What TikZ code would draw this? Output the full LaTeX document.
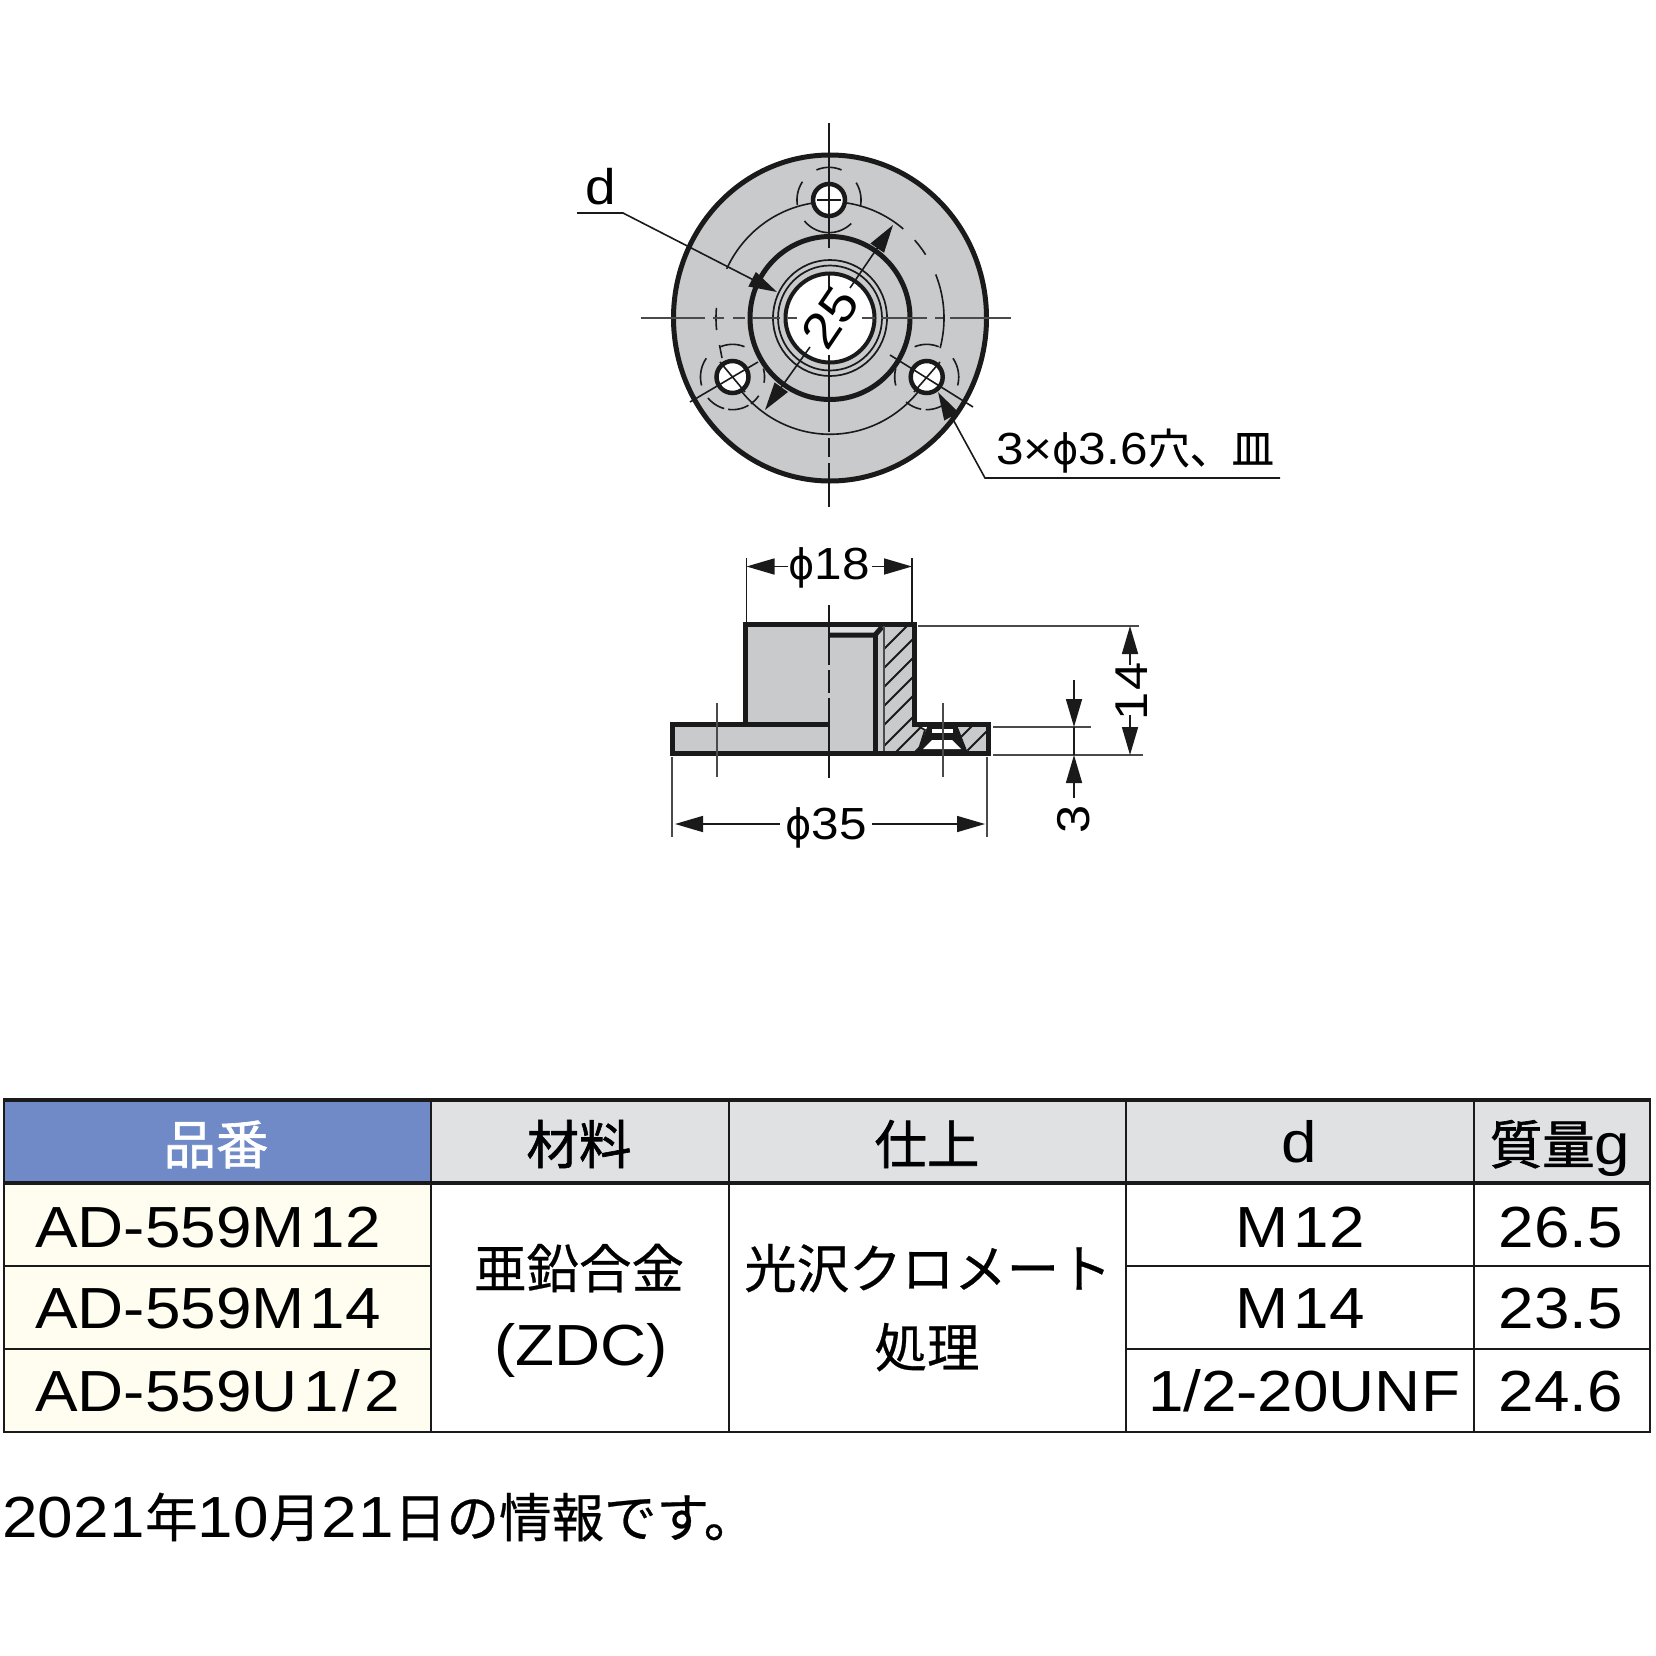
\documentclass[tikz,border=0pt]{standalone}
\usepackage{fontspec}
\setmainfont[FakeStretch=1.1]{Liberation Sans}
\newfontfamily\cjk[FakeBold=0.5]{Noto Sans CJK JP}
\newfontfamily\cjkb[FakeBold=1.2]{Noto Sans CJK JP}
\newfontfamily\phifont[FakeStretch=0.95]{DejaVu Sans}
\usetikzlibrary{arrows.meta}
\newcommand\fsz[1]{\fontsize{#1}{#1}\selectfont}
\newcommand\J[2][52.5]{{\cjk\fsz{#1}#2}}
\newcommand\JB[1]{{\cjkb\fsz{52.5}#1}}
\newcommand\parc[6]{\draw[#6] plot[domain=#4:#5,samples=40,smooth,variable=\t] ({#1+#3*cos(\t)},{#2-#3*1.02*sin(\t)});}
\definecolor{metal}{HTML}{C9CACB}
\definecolor{band}{HTML}{DEDFE0}
\definecolor{hblue}{HTML}{6F8AC6}
\definecolor{hgray}{HTML}{E0E1E3}
\definecolor{cream}{HTML}{FEFDF0}
\definecolor{ink}{HTML}{1A1A1A}
\definecolor{soft}{HTML}{4A4A4A}
\tikzset{
  thick line/.style={draw=ink,line width=5pt},
  mid line/.style={draw=ink,line width=1.7pt},
  thin line/.style={draw=ink,line width=1.6pt},
  ext line/.style={draw=soft,line width=1.7pt},
  center mark/.style={draw=soft,line width=2.2pt},
  dimarrow/.style={-{Triangle[length=28pt,width=16pt]},draw=ink,line width=1.6pt},
  rule/.style={draw=ink,line width=2.4pt},
  heavy rule/.style={draw=ink,line width=4pt},
  dimtext/.style={inner sep=0pt,font=\fsz{46}},
  cell/.style={inner sep=0pt,anchor=base,font=\fsz{58}},
  pn/.style={inner sep=0pt,anchor=base west,font=\fsz{58}}
}
\begin{document}
\begin{tikzpicture}[x=1pt,y=-1pt]
\useasboundingbox (0,0) rectangle (1656,1656);
\fill[white] (0,0) rectangle (1656,1656);

% ---------- top view
\coordinate (cc) at (830,318);
\path[fill=metal] (cc) ellipse [x radius=156.5,y radius=163];
\draw[thick line] (cc) ellipse [x radius=156.5,y radius=163];
\draw[thick line] (cc) ellipse [x radius=80,y radius=81.5];
\draw[mid line] (cc) ellipse [x radius=57,y radius=58];
\draw[mid line] (cc) ellipse [x radius=52,y radius=52.5];
\draw[line width=4pt,draw=ink,fill=white] (cc) ellipse [x radius=44.5,y radius=44.5];

% pitch circle
\parc{830}{318}{114}{98}{155}{thin line}
\parc{830}{318}{114}{175}{186}{thin line}
\parc{830}{318}{114}{82}{50}{thin line}
\parc{830}{318}{114}{42}{33}{thin line}
\parc{830}{318}{114}{22}{-15}{thin line}
\parc{830}{318}{114}{-143}{-37}{thin line}

% holes
\foreach \hx/\hy/\nm in {829/200/top,732.5/377/lft,926.7/377/rgt}{
  \draw[line width=4.5pt,draw=ink,fill=white] (\hx,\hy) coordinate (h\nm) circle [radius=16];
}
% countersink arcs
\parc{829}{200}{32}{67}{113}{thin line}
\parc{829}{200}{32}{146}{189}{thin line}
\parc{829}{200}{32}{32}{-12}{thin line}
\parc{829}{200}{32}{-140}{-46}{thin line}
\parc{732.5}{377}{32}{68}{112}{thin line}
\parc{732.5}{377}{32}{145}{195}{thin line}
\parc{732.5}{377}{32}{-140}{-105}{thin line}
\parc{732.5}{377}{32}{-98}{-60}{thin line}
\parc{732.5}{377}{32}{-55}{-35}{thin line}
\parc{732.5}{377}{32}{-10}{15}{thin line}
\parc{926.7}{377}{32}{68}{112}{thin line}
\parc{926.7}{377}{32}{-15}{35}{thin line}
\parc{926.7}{377}{32}{-130}{-100}{thin line}
\parc{926.7}{377}{32}{-92}{-55}{thin line}
\parc{926.7}{377}{32}{165}{195}{thin line}
\draw[thin line] (719.5,345) -- (722,358);
% hole centre marks
\draw[thin line] (817,200) -- (841,200);
\draw[thin line] (758,362) -- (690,402);
\draw[thin line] (720,362) -- (745,392);
\draw[thin line] (890,355) -- (973,407);
\draw[thin line] (940,362) -- (914,392);
% vertical centre line
\foreach \a/\b in {123/248,273/290,355/432,438/457,463/507}{
  \draw[thin line] (829,\a) -- (829,\b);
}
% horizontal centre line
\foreach \a/\b in {641/705,713/724,733/745,752/780,788/797,862/875,881/927,935/943,950/1011}{
  \draw[center mark] (\a,318) -- (\b,318);
}

% dimension 25 and leaders
\coordinate (a1) at (850,288);
\coordinate (a2) at (893,225);
\coordinate (b1) at (810,347);
\coordinate (b2) at (765,410);
\draw[dimarrow] (a1) -- (a2);
\draw[dimarrow] (b1) -- (b2);
\node[dimtext,rotate=56,font=\fsz{50}] (tw) at (830,318) {25};

\node[inner sep=0pt,font=\fsz{50}] (dl) at (601,187) {d};
\coordinate (d0) at (577,213);
\coordinate (d1) at (623,213);
\coordinate (d2) at (777,292);
\draw[dimarrow] (d0) -- (d1) -- (d2);

\node[inner sep=0pt,anchor=base west,font=\fsz{45}] (hl) at (996,464) {3×{\phifont\fsz{42}ϕ}3.6\J[42]{穴、皿}};
\coordinate (l0) at (1280,478);
\coordinate (l1) at (985,478);
\coordinate (l2) at (938,392);
\draw[dimarrow] (l0) -- (l1) -- (l2);

% ---------- side view
% gray bodies
\fill[metal] (745,624) rectangle (829,724);
\fill[metal] (672,725) rectangle (829,753);
\fill[metal] (829,637) rectangle (873,753);
\fill[band] (829,626) -- (880,626) -- (873,635) -- (829,635) -- cycle;
\fill[metal] (875,635) -- (884,626) -- (913,626) -- (913,723) -- (925,730) -- (918,752) -- (875,752) -- cycle;
\fill[metal] (957,727) -- (988,727) -- (988,752) -- (968,752) -- cycle;
% hatching
\begin{scope}
\clip (885,626) -- (913,626) -- (913,723) -- (925,730) -- (918,752) -- (885,752) -- cycle;
\foreach \s in {653,672,691,710,729,750,768,787}{
  \draw[thin line,line width=1.8pt] (880,\s) -- (935,\s-55);
}
\end{scope}
\begin{scope}
\clip (957,727) -- (986,727) -- (986,752) -- (968,752) -- cycle;
\foreach \s in {748,768}{
  \draw[thin line,line width=1.8pt] (950,\s) -- (990,\s-40);
}
\end{scope}
% countersunk hole
\fill[ink] (928,725) -- (957,725) -- (968,753) -- (917,753) -- cycle;
\fill[white] (932,729) rectangle (953,733);
\fill[white] (932,740) -- (952,740) -- (961,749) -- (923,749) -- cycle;
% outlines
\draw[thick line,line join=miter] (829,724) -- (745,724) -- (745,624) -- (914,624) -- (914,724) -- (988,724) -- (988,753) -- (672,753) -- (672,724) -- (745,724);
\draw[thick line] (829,635) -- (875,635) -- (882,627);
\draw[thick line] (875,635) -- (875,753);
\draw[draw=soft,line width=2pt] (884,626) -- (884,751);
\draw[mid line] (913,723) -- (925,730) -- (918,752);
% centre lines
\foreach \a/\b in {605/665,670/693,698/778}{
  \draw[thin line] (829,\a) -- (829,\b);
}
\draw[ext line] (717,703) -- (717,777);
\draw[ext line] (943,703) -- (943,777);

% dimension phi 18
\draw[thin line] (746.5,558) -- (746.5,622);
\draw[thin line] (912,558) -- (912,622);
\coordinate (p1) at (788,566.5);
\coordinate (p2) at (746.5,566.5);
\coordinate (p3) at (872,566.5);
\coordinate (p4) at (912,566.5);
\draw[dimarrow] (p1) -- (p2);
\draw[dimarrow] (p3) -- (p4);
\node[dimtext,font=\fsz{45}] (d18) at (829,568) {{\phifont\fsz{42}ϕ}18};

% dimension phi 35
\draw[ext line] (672,757) -- (672,837);
\draw[ext line] (987,757) -- (987,837);
\coordinate (q1) at (780,824);
\coordinate (q2) at (675,824);
\coordinate (q3) at (872,824);
\coordinate (q4) at (985,824);
\draw[dimarrow] (q1) -- (q2);
\draw[dimarrow] (q3) -- (q4);
\node[dimtext,font=\fsz{45}] (d35) at (826,828) {{\phifont\fsz{42}ϕ}35};

% right extension lines
\draw[ext line] (918,626) -- (1139,626);
\draw[ext line] (993,755) -- (1143,755);
\draw[ext line] (993,727) -- (1091,727);

% dimension 14
\coordinate (r1) at (1130,665);
\coordinate (r2) at (1130,626);
\coordinate (r3) at (1130,715);
\coordinate (r4) at (1130,755);
\draw[dimarrow] (r1) -- (r2);
\draw[dimarrow] (r3) -- (r4);
\node[dimtext,rotate=90] (d14) at (1132,691) {1\kern2pt 4};

% dimension 3
\coordinate (s1) at (1074,680);
\coordinate (s2) at (1074,727);
\coordinate (s3) at (1074,798);
\coordinate (s4) at (1074,755);
\draw[dimarrow] (s1) -- (s2);
\draw[dimarrow] (s3) -- (s4);
\draw[thin line] (s2) -- (s4);
\node[dimtext,rotate=90] (d3) at (1074,819) {3};

% ---------- table
\fill[hblue] (4,1100) rectangle (431,1183);
\fill[hgray] (431,1100) rectangle (1650,1183);
\fill[cream] (4,1183) rectangle (431,1432);
\foreach \x in {431,729,1126,1474}{ \draw[rule] (\x,1100) -- (\x,1432); }
\draw[rule] (4,1100) -- (4,1432);
\draw[rule] (1650,1100) -- (1650,1432);
\draw[heavy rule] (3,1100) -- (1651,1100);
\draw[heavy rule] (3,1183) -- (1651,1183);
\draw[rule] (3,1266) -- (431,1266);
\draw[rule] (3,1349) -- (431,1349);
\draw[rule] (1126,1266) -- (1651,1266);
\draw[rule] (1126,1349) -- (1651,1349);
\draw[rule] (3,1432) -- (1651,1432);

\node[cell,text=white] (t1) at (216,1164) {\JB{品番}};
\node[cell] (t2) at (579,1164) {\JB{材料}};
\node[cell] (t3) at (927,1164) {\JB{仕上}};
\node[cell] (t4) at (1299,1162) {d};
\node[cell] (t5) at (1560,1164) {\JB{質量}g};

\node[pn] (r1a) at (35,1247) {AD-559M\kern5pt 12};
\node[pn] (r2a) at (35,1328) {AD-559M\kern5pt 14};
\node[pn] (r3a) at (35,1411) {AD-559U\kern6pt 1\kern4pt/\kern4pt 2};

\node[cell] (m1) at (579,1288) {\J{亜鉛合金}};
\node[cell] (m2) at (581,1365) {(ZDC)};
\node[cell] (f1) at (928,1288) {\J{光沢クロメート}};
\node[cell] (f2) at (927,1367) {\J{処理}};

\node[cell] (d1a) at (1300,1247) {M\kern5pt 12};
\node[cell] (d2a) at (1300,1328) {M\kern5pt 14};
\node[cell] (d3a) at (1304,1411) {1/2-20UNF};
\node[cell] (g1) at (1561,1247) {26.5};
\node[cell] (g2) at (1561,1328) {23.5};
\node[cell] (g3) at (1561,1411) {24.6};

\node[pn] (note) at (2,1537) {202\kern1pt 1\J{年}10\J{月}2\kern2pt 1\J{日の情報です。}};
\end{tikzpicture}
\end{document}
